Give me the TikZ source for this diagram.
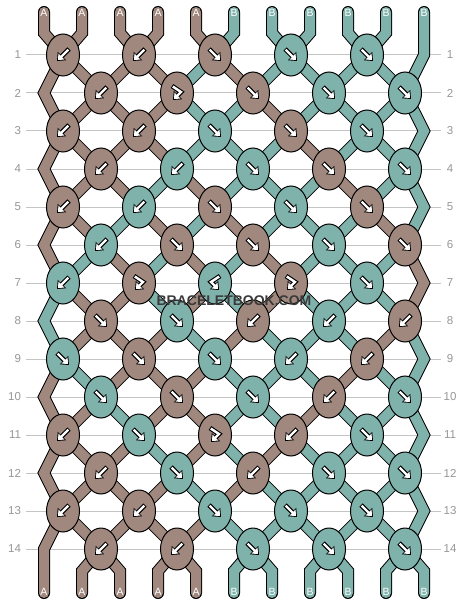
\documentclass[tikz,border=0pt]{standalone}
\usepackage{fontspec}
\setmainfont{Liberation Sans}
\usetikzlibrary{shapes.geometric,arrows.meta}

\definecolor{strA}{RGB}{160,136,126}
\definecolor{strB}{RGB}{128,178,172}
\definecolor{rulegray}{RGB}{196,196,196}
\definecolor{labelgray}{RGB}{150,150,150}
\definecolor{markgray}{RGB}{58,58,58}

\pgfdeclarelayer{back}
\pgfdeclarelayer{threads}
\pgfsetlayers{back,threads,main}

\tikzset{
  knot/.style={ellipse, draw=black, line width=1pt, minimum width=33pt, minimum height=42pt, inner sep=0pt},
  strand/.style={draw=black, line width=1pt, double distance=10pt, line cap=round},
  arrowbk/.style={draw=black, line width=4.6pt, -{Triangle[length=7pt,width=11.5pt]}},
  arrowwt/.style={draw=white, line width=2.4pt, shorten <=1pt, shorten >=1.4pt, -{Triangle[length=4.8pt,width=8pt]}},
  rowlabel/.style={text=labelgray, font=\fontsize{11.5}{12}\selectfont, inner sep=0pt},
  endlabel/.style={text=white, font=\fontsize{10.5}{11}\selectfont, inner sep=0pt},
  gridline/.style={draw=rulegray, line width=1pt},
  watermark/.style={font=\fontsize{14}{14}\selectfont\bfseries, inner sep=0pt},
}

% knot arrows: black under white
\newcommand\twoline[1]{\draw[arrowbk] #1; \draw[arrowwt] #1;}
\newcommand\arrF[1]{\twoline{([shift={(-6,-6)}]#1.center) -- ([shift={(6,6)}]#1.center)}}
\newcommand\arrB[1]{\twoline{([shift={(6,-6)}]#1.center) -- ([shift={(-6,6)}]#1.center)}}
\newcommand\arrFB[1]{\twoline{([shift={(-5,-7)}]#1.center) -- ([shift={(4,-1)}]#1.center) -- ([shift={(-4,7)}]#1.center)}}
\newcommand\arrBF[1]{\twoline{([shift={(5,-7)}]#1.center) -- ([shift={(-4,-1)}]#1.center) -- ([shift={(4,7)}]#1.center)}}

\begin{document}
\begin{tikzpicture}[x=1pt, y=-1pt]
  \useasboundingbox (0,0) rectangle (468,604);

  % Row numbers and guide lines
  \foreach \r in {1,...,14} {
    \node[rowlabel, anchor=east, outer sep=5pt] (rl\r) at (26,{17+38*\r}) {\r};
    \node[rowlabel, minimum width=18pt] (rr\r) at (450,{17+38*\r}) {\r};
    \begin{pgfonlayer}{back}
      \draw[gridline] (rl\r) -- (rr\r);
    \end{pgfonlayer}
  }

  % String ends and edge turns
  \foreach \p in {1,...,11} {
    \coordinate (top\p) at ({6+38*\p},12);
    \coordinate (bot\p) at ({6+38*\p},593);
  }
  \foreach \m in {2,4,...,14} \coordinate (el\m) at (44,{17+38*\m});
  \foreach \m in {1,3,...,13} \coordinate (er\m) at (424,{17+38*\m});

  % Knots, row by row
  \foreach \r/\rw in {
    1/{A/\arrB,A/\arrB,A/\arrF,B/\arrF,B/\arrF},
    2/{A/\arrB,A/\arrFB,A/\arrF,B/\arrF,B/\arrF},
    3/{A/\arrB,A/\arrB,B/\arrF,A/\arrF,B/\arrF},
    4/{A/\arrB,B/\arrB,B/\arrF,A/\arrF,B/\arrF},
    5/{A/\arrB,B/\arrB,A/\arrF,B/\arrF,A/\arrF},
    6/{B/\arrB,A/\arrF,A/\arrF,B/\arrF,A/\arrF},
    7/{B/\arrB,A/\arrFB,B/\arrBF,A/\arrFB,B/\arrF},
    8/{A/\arrF,B/\arrF,A/\arrB,B/\arrB,A/\arrB},
    9/{B/\arrF,A/\arrF,B/\arrF,B/\arrB,A/\arrB},
    10/{B/\arrF,A/\arrF,B/\arrF,A/\arrB,B/\arrF},
    11/{A/\arrB,B/\arrF,A/\arrFB,A/\arrB,B/\arrF},
    12/{A/\arrB,B/\arrF,A/\arrB,B/\arrF,B/\arrF},
    13/{A/\arrB,A/\arrB,B/\arrF,B/\arrF,B/\arrF},
    14/{A/\arrB,A/\arrB,B/\arrF,B/\arrF,B/\arrF}} {
    \foreach \cl/\ar [count=\k] in \rw {
      \pgfmathsetmacro\kx{76*\k-13+38*(1-mod(\r,2))}
      \node[knot, fill=str\cl] (k\r-\k) at (\kx,{17+38*\r}) {};
      \ar{k\r-\k}
    }
  }

  \begin{pgfonlayer}{threads}
    % strings between two rows
    \foreach \r/\cols in {
      1/{A,A,A,B,A,B,B,B,B},
      2/{A,A,A,B,B,A,B,B,B},
      3/{A,A,A,B,B,B,A,B,B},
      4/{A,A,B,A,B,B,B,A,B},
      5/{A,B,A,B,A,B,B,B,A},
      6/{B,A,B,A,B,A,B,B,B},
      7/{A,A,B,A,B,A,B,B,B},
      8/{A,A,A,B,A,B,B,B,A},
      9/{B,A,A,A,B,B,B,A,B},
      10/{A,B,A,A,B,B,A,B,B},
      11/{A,A,B,A,B,A,B,B,B},
      12/{A,A,A,B,A,B,B,B,B},
      13/{A,A,A,A,B,B,B,B,B}} {
      \pgfmathtruncatemacro\n{\r+1}
      \foreach \cl [count=\p from 2] in \cols {
        \pgfmathtruncatemacro\ka{mod(\r,2)==1 ? ceil(\p/2) : floor(\p/2)}
        \pgfmathtruncatemacro\kb{mod(\r,2)==1 ? floor(\p/2) : ceil(\p/2)}
        \draw[strand, double=str\cl] (k\r-\ka.center) -- (k\n-\kb.center);
      }
    }

    % left edge
    \foreach \r/\cl in {1/A,3/A,5/A,7/B,9/A,11/A} {
      \pgfmathtruncatemacro\m{\r+1}
      \pgfmathtruncatemacro\n{\r+2}
      \draw[strand, double=str\cl] (k\r-1.center) -- (el\m) -- (k\n-1.center);
    }
    \draw[strand, double=strA] (k13-1.center) -- (el14) -- (bot1);

    % right edge
    \draw[strand, double=strB] (top11) -- (er1) -- (k2-5.center);
    \foreach \r/\cl in {2/B,4/B,6/A,8/B,10/B,12/B} {
      \pgfmathtruncatemacro\m{\r+1}
      \pgfmathtruncatemacro\n{\r+2}
      \draw[strand, double=str\cl] (k\r-5.center) -- (er\m) -- (k\n-5.center);
    }

    % top and bottom ends
    \foreach \cl [count=\p] in {A,A,A,A,A,B,B,B,B,B} {
      \pgfmathtruncatemacro\ka{ceil(\p/2)}
      \draw[strand, double=str\cl] (top\p) -- ++(0,21) -- (k1-\ka.center);
    }
    \foreach \cl [count=\p from 2] in {A,A,A,A,B,B,B,B,B,B} {
      \pgfmathtruncatemacro\ka{floor(\p/2)}
      \draw[strand, double=str\cl] (k14-\ka.center) -- ([shift={(0,-22)}]bot\p) -- (bot\p);
    }
  \end{pgfonlayer}

  % String letters
  \foreach \lt [count=\p] in {A,A,A,A,A,B,B,B,B,B,B} {
    \node[endlabel] (tl\p) at ([shift={(0,1)}]top\p) {\lt};
    \node[endlabel] (bl\p) at ([shift={(0,-1)}]bot\p) {\lt};
  }

  % Watermark
  \node[watermark, text=markgray] (mark) at (234,301) {BRACELETBOOK.COM};
\end{tikzpicture}
\end{document}
